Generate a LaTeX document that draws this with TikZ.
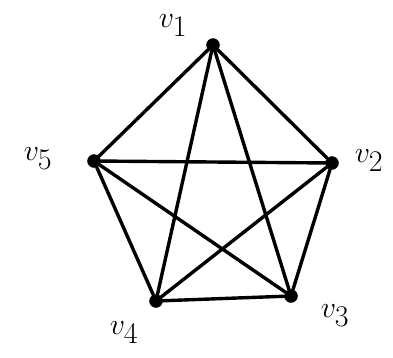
\RequirePackage{fix-cm}
\documentclass[tikz,border=0pt]{standalone}
\usepackage{amsmath,amssymb}
\usepackage{tikz}
\usetikzlibrary{positioning}

\tikzset{
  vert/.style={circle,fill=black,draw=black,inner sep=0pt,minimum size=13pt},
  vlabel/.style={inner sep=0pt,font=\fontsize{30}{34}\selectfont},
  edge/.style={line width=3.4pt,line cap=round,black}
}

\begin{document}
\begin{tikzpicture}[x=1pt,y=-1pt]
    \useasboundingbox (0,0) rectangle (393,357);
    \node[vert] (v1) at (213,45) {};
    \node[vert] (v2) at (332,163) {};
    \node[vert] (v3) at (291,296) {};
    \node[vert] (v4) at (156,301) {};
    \node[vert] (v5) at (94,161) {};
    \node[vlabel] (l1) at (173,26) {$v_{\textstyle 1}$};
    \node[vlabel] (l2) at (369,161) {$v_{\textstyle 2}$};
    \node[vlabel] (l3) at (335,316) {$v_{\textstyle 3}$};
    \node[vlabel] (l4) at (124,333) {$v_{\textstyle 4}$};
    \node[vlabel] (l5) at (38,159) {$v_{\textstyle 5}$};
    \draw[edge] (v1) -- (v2);
    \draw[edge] (v1) -- (v3);
    \draw[edge] (v1) -- (v4);
    \draw[edge] (v1) -- (v5);
    \draw[edge] (v2) -- (v3);
    \draw[edge] (v2) -- (v4);
    \draw[edge] (v2) -- (v5);
    \draw[edge] (v3) -- (v4);
    \draw[edge] (v3) -- (v5);
    \draw[edge] (v4) -- (v5);
  \end{tikzpicture}
\end{document}
